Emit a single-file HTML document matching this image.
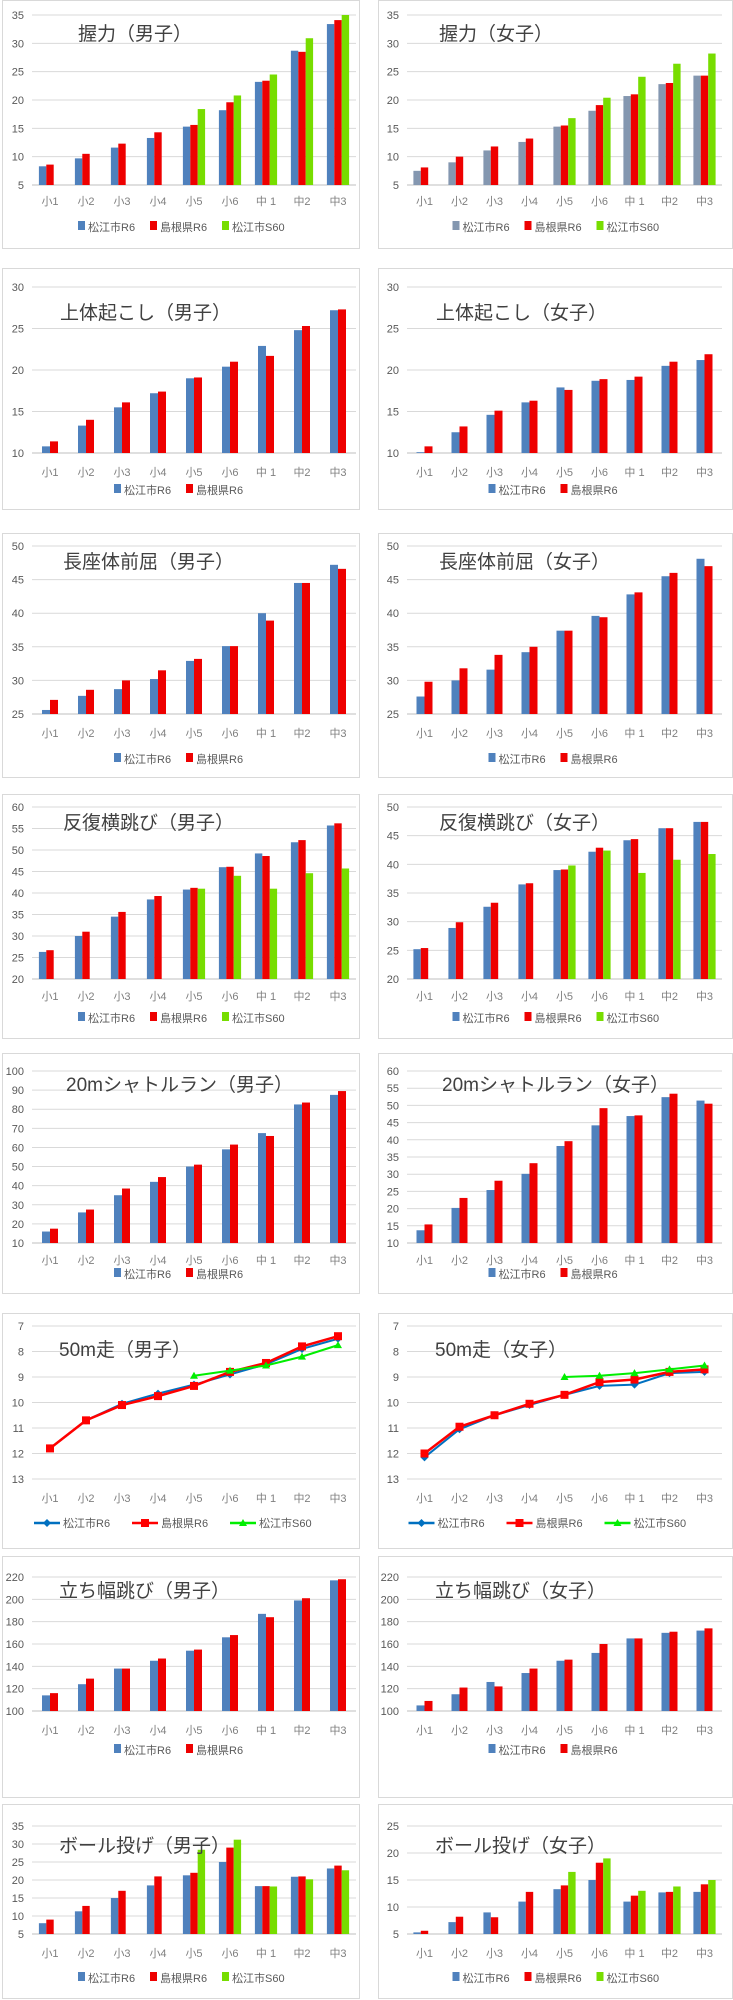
<!DOCTYPE html>
<html><head><meta charset="utf-8">
<style>
body{margin:0;background:#fff;width:733px;height:2000px;position:relative;overflow:hidden;font-family:"Liberation Sans","Noto Sans CJK JP",sans-serif;}
svg{position:absolute;left:0;top:0;}
</style></head>
<body>
<svg id="s" width="733" height="2000"></svg>
<script>
const categories = ['小1','小2','小3','小4','小5','小6','中 1','中2','中3'];
const seriesNames = ['松江市R6','島根県R6','松江市S60'];

const gripM_matsue = [8.3,9.7,11.6,13.3,15.3,18.2,23.2,28.7,33.4];
const gripM_shimane = [8.6,10.5,12.3,14.3,15.6,19.6,23.4,28.5,34.1];
const gripM_s60 = [null,null,null,null,18.4,20.8,24.5,30.9,35.0];
const gripF_matsue = [7.5,9.0,11.1,12.6,15.3,18.1,20.7,22.8,24.3];
const gripF_shimane = [8.1,10.0,11.8,13.2,15.5,19.1,21.0,23.0,24.3];
const gripF_s60 = [null,null,null,null,16.8,20.4,24.1,26.4,28.2];
const situpM_matsue = [10.8,13.3,15.5,17.2,19.0,20.4,22.9,24.8,27.2];
const situpM_shimane = [11.4,14.0,16.1,17.4,19.1,21.0,21.7,25.3,27.3];
const situpF_matsue = [10.1,12.5,14.6,16.1,17.9,18.7,18.8,20.5,21.2];
const situpF_shimane = [10.8,13.2,15.1,16.3,17.6,18.9,19.2,21.0,21.9];
const reachM_matsue = [25.6,27.7,28.7,30.2,32.9,35.1,40.0,44.5,47.2];
const reachM_shimane = [27.1,28.6,30.0,31.5,33.2,35.1,38.9,44.5,46.6];
const reachF_matsue = [27.6,30.0,31.6,34.2,37.4,39.6,42.8,45.5,48.1];
const reachF_shimane = [29.8,31.8,33.8,35.0,37.4,39.4,43.1,46.0,47.0];
const stepM_matsue = [26.3,30.0,34.5,38.5,40.8,46.0,49.2,51.8,55.7];
const stepM_shimane = [26.7,31.0,35.6,39.3,41.2,46.1,48.6,52.3,56.2];
const stepM_s60 = [null,null,null,null,41.0,44.0,41.0,44.6,45.7];
const stepF_matsue = [25.2,28.9,32.6,36.5,39.0,42.2,44.2,46.3,47.4];
const stepF_shimane = [25.4,29.9,33.3,36.7,39.1,42.9,44.4,46.3,47.4];
const stepF_s60 = [null,null,null,null,39.8,42.4,38.5,40.8,41.8];
const shuttleM_matsue = [16,26,35,42,50,59,67.5,82.5,87.5];
const shuttleM_shimane = [17.5,27.5,38.5,44.5,51,61.5,66,83.5,89.5];
const shuttleF_matsue = [13.7,20.2,25.4,30.1,38.2,44.2,46.9,52.4,51.4];
const shuttleF_shimane = [15.4,23.1,28.1,33.2,39.6,49.2,47.1,53.4,50.5];
const runM_matsue = [11.8,10.7,10.05,9.65,9.3,8.9,8.5,7.9,7.5];
const runM_shimane = [11.8,10.7,10.1,9.75,9.35,8.8,8.45,7.8,7.4];
const runM_s60 = [null,null,null,null,8.95,8.75,8.55,8.2,7.75];
const runF_matsue = [12.15,11.05,10.5,10.1,9.7,9.35,9.3,8.85,8.8];
const runF_shimane = [12.0,10.95,10.5,10.05,9.7,9.2,9.1,8.8,8.7];
const runF_s60 = [null,null,null,null,9.0,8.95,8.85,8.7,8.55];
const jumpM_matsue = [114,124,138,145,154,166,187,199,217];
const jumpM_shimane = [116,129,138,147,155,168,184,201,218];
const jumpF_matsue = [105,115,126,134,145,152,165,170,172];
const jumpF_shimane = [109,121,122,138,146,160,165,171,174];
const ballM_matsue = [8,11.3,15,18.5,21.3,25,18.3,20.9,23.2];
const ballM_shimane = [9,12.8,17,21,22,29,18.3,21,24];
const ballM_s60 = [null,null,null,null,28.4,31.2,18.2,20.2,22.7];
const ballF_matsue = [5.3,7.2,9.0,11.0,13.3,15.0,11.0,12.7,12.8];
const ballF_shimane = [5.6,8.2,8.1,12.8,14.0,18.2,12.1,12.8,14.2];
const ballF_s60 = [null,null,null,null,16.5,19.0,13.0,13.8,15.0];

const ticksGrip = [5,10,15,20,25,30,35];
const ticksSitup = [10,15,20,25,30];
const ticksReach = [25,30,35,40,45,50];
const ticksStepM = [20,25,30,35,40,45,50,55,60];
const ticksStepF = [20,25,30,35,40,45,50];
const ticksShuttleM = [10,20,30,40,50,60,70,80,90,100];
const ticksShuttleF = [10,15,20,25,30,35,40,45,50,55,60];
const ticksRun = [7,8,9,10,11,12,13];
const ticksJump = [100,120,140,160,180,200,220];
const ticksBallM = [5,10,15,20,25,30,35];
const ticksBallF = [5,10,15,20,25];

const NS='http://www.w3.org/2000/svg';
const svg=document.getElementById('s');
function mk(tag,attrs,parent){const e=document.createElementNS(NS,tag);for(const k in attrs)e.setAttribute(k,attrs[k]);(parent||svg).appendChild(e);return e;}
const COLORS=['#4f81bd','#ee0000','#77dd00'];
const LCOLORS=['#0070c0','#ff0000','#00ee00'];

const rows=[
 {top:0,bot:249,gt:15,gb:185,tb:40,tx:76,txR:61,lb:201,lg:231},
 {top:268,bot:510,gt:287,gb:453,tb:319,tx:58,txR:58,lb:472,lg:494},
 {top:533,bot:778,gt:546,gb:714,tb:568,tx:61,txR:61,lb:733,lg:763},
 {top:794,bot:1039,gt:807,gb:979,tb:829,tx:61,txR:61,lb:996,lg:1022},
 {top:1053,bot:1294,gt:1071,gb:1243,tb:1091,tx:64,txR:64,lb:1260,lg:1278},
 {top:1313,bot:1549,gt:1326,gb:1479,tb:1356,tx:57,txR:57,lb:1498,lg:1527},
 {top:1556,bot:1798,gt:1577,gb:1711,tb:1597,tx:57,txR:57,lb:1730,lg:1754},
 {top:1804,bot:1999,gt:1826,gb:1934,tb:1852,tx:57,txR:57,lb:1953,lg:1982}
];
const cols=[{x:2,w:358,pl:32,pr:356},{x:378,w:355,pl:407,pr:722}];

function chart(r,c,name,title,ticks,series,type,female){
  const R=rows[r],C=cols[c];
  const g=mk('g',{});
  
  
  const bg=mk('rect',{x:C.x+0.5,y:R.top+0.5,width:C.w-1,height:R.bot-R.top-1,fill:'#fff',stroke:'#d9d9d9'},g);
  
  
  const mn=ticks[0],mx=ticks[ticks.length-1];
  const inv = type==='line';
  const yS=v=> inv ? R.gt+(v-mn)/(mx-mn)*(R.gb-R.gt) : R.gb-(v-mn)/(mx-mn)*(R.gb-R.gt);
  const gw=(C.pr-C.pl)/categories.length;
  const xS=i=>C.pl+gw*(i+0.5);
  const gridG=mk('g',{},g);
  
  
  ticks.forEach(t=>{
    const y=yS(t);
    mk('line',{x1:C.pl,x2:C.pr,y1:y,y2:y,stroke:(t===mn&&!inv)?'#bfbfbf':'#d9d9d9','stroke-width':1},gridG);
    const tl=mk('text',{x:C.pl-8,y:y+4,'text-anchor':'end','font-size':'11',fill:'#595959'},g);
    tl.textContent=t;
    
    
  });
  categories.forEach((cat,i)=>{
    const t=mk('text',{x:xS(i),y:R.lb+4,'text-anchor':'middle','font-size':'11',fill:'#7f7f7f'},g);
    t.textContent=cat;
    
    
  });
  const cols2=series.map((s,k)=>(female&&k===0&&name.indexOf('grip')===0)?'#8497b0':COLORS[k]);
  if(type==='bar'){
    const n=series.length;
    const bw=n===3?7.4:8;
    series.forEach((s,k)=>{
      s.forEach((v,i)=>{
        if(v==null)return;
        const x=xS(i)-bw*n/2+bw*k;
        const y=yS(v);
        const b=mk('rect',{x:x,y:y,width:bw,height:R.gb-y,fill:cols2[k]},g);
        
        
      });
    });
  } else {
    series.forEach((s,k)=>{
      let d='';
      s.forEach((v,i)=>{if(v==null)return;d+=(d?'L':'M')+xS(i)+' '+yS(v);});
      const p=mk('path',{d:d,fill:'none',stroke:LCOLORS[k],'stroke-width':k===1?2.5:2},g);
      
      
      s.forEach((v,i)=>{if(v==null)return;const m=marker(k,xS(i),yS(v),g);
        
        });
    });
  }
  const tt=mk('text',{x:C.x+(c===0?R.tx:R.txR),y:R.tb,'font-size':'19',fill:'#404040','font-family':'"Liberation Sans","Noto Sans CJK JP",sans-serif'},g);
  tt.textContent=title;
  
  
  const n=series.length;
  const ly=R.lg;
  const itemW=type==='line'?98:72;
  const cx=C.x+C.w/2+(type==='line'?0:5);
  const startX=cx-itemW*n/2;
  for(let k=0;k<n;k++){
    const lg=mk('g',{},g);
    
    
    const x0=startX+itemW*k;
    let tx;
    if(type==='line'){
      mk('line',{x1:x0,x2:x0+26,y1:ly-4,y2:ly-4,stroke:LCOLORS[k],'stroke-width':2.5},lg);
      marker(k,x0+13,ly-4,lg);
      tx=x0+29;
    } else {
      mk('rect',{x:x0,y:ly-10,width:7,height:9,fill:cols2[k]},lg);
      tx=x0+10;
    }
    const t=mk('text',{x:tx,y:ly,'font-size':'11',fill:'#595959'},lg);
    t.textContent=seriesNames[k];
  }
}
function marker(k,x,y,p){
  if(k===0) return mk('path',{d:`M${x} ${y-4}L${x+4} ${y}L${x} ${y+4}L${x-4} ${y}Z`,fill:LCOLORS[0]},p);
  if(k===1) return mk('rect',{x:x-4,y:y-4,width:8,height:8,fill:LCOLORS[1]},p);
  return mk('path',{d:`M${x} ${y-4}L${x+4} ${y+3}L${x-4} ${y+3}Z`,fill:LCOLORS[2]},p);
}
chart(0,0,'grip-male-chart','握力（男子）',ticksGrip,[gripM_matsue,gripM_shimane,gripM_s60],'bar',false);
chart(0,1,'grip-female-chart','握力（女子）',ticksGrip,[gripF_matsue,gripF_shimane,gripF_s60],'bar',true);
chart(1,0,'situp-male-chart','上体起こし（男子）',ticksSitup,[situpM_matsue,situpM_shimane],'bar');
chart(1,1,'situp-female-chart','上体起こし（女子）',ticksSitup,[situpF_matsue,situpF_shimane],'bar');
chart(2,0,'reach-male-chart','長座体前屈（男子）',ticksReach,[reachM_matsue,reachM_shimane],'bar');
chart(2,1,'reach-female-chart','長座体前屈（女子）',ticksReach,[reachF_matsue,reachF_shimane],'bar');
chart(3,0,'sidestep-male-chart','反復横跳び（男子）',ticksStepM,[stepM_matsue,stepM_shimane,stepM_s60],'bar');
chart(3,1,'sidestep-female-chart','反復横跳び（女子）',ticksStepF,[stepF_matsue,stepF_shimane,stepF_s60],'bar');
chart(4,0,'shuttle-male-chart','20mシャトルラン（男子）',ticksShuttleM,[shuttleM_matsue,shuttleM_shimane],'bar');
chart(4,1,'shuttle-female-chart','20mシャトルラン（女子）',ticksShuttleF,[shuttleF_matsue,shuttleF_shimane],'bar');
chart(5,0,'run50-male-chart','50m走（男子）',ticksRun,[runM_matsue,runM_shimane,runM_s60],'line');
chart(5,1,'run50-female-chart','50m走（女子）',ticksRun,[runF_matsue,runF_shimane,runF_s60],'line');
chart(6,0,'jump-male-chart','立ち幅跳び（男子）',ticksJump,[jumpM_matsue,jumpM_shimane],'bar');
chart(6,1,'jump-female-chart','立ち幅跳び（女子）',ticksJump,[jumpF_matsue,jumpF_shimane],'bar');
chart(7,0,'ball-male-chart','ボール投げ（男子）',ticksBallM,[ballM_matsue,ballM_shimane,ballM_s60],'bar');
chart(7,1,'ball-female-chart','ボール投げ（女子）',ticksBallF,[ballF_matsue,ballF_shimane,ballF_s60],'bar');
</script>
</body></html>
